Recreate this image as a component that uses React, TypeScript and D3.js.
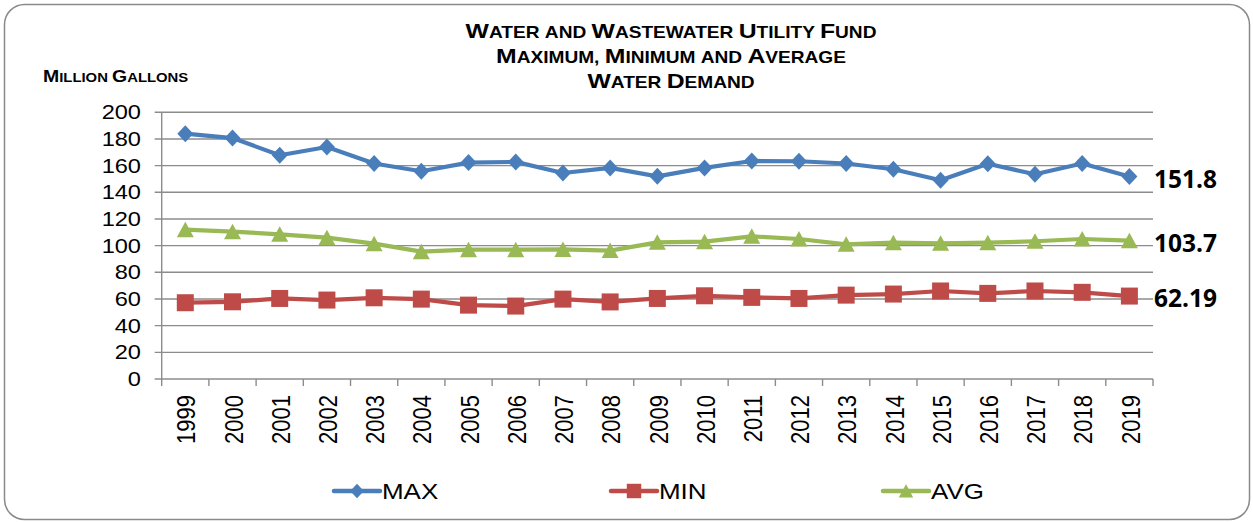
import React from 'react';
import * as d3 from 'd3';

const years = ['1999', '2000', '2001', '2002', '2003', '2004', '2005', '2006', '2007', '2008', '2009', '2010', '2011', '2012', '2013', '2014', '2015', '2016', '2017', '2018', '2019'];
const maxDemand = [184, 180.7, 167.8, 174, 161.6, 155.8, 162.3, 162.8, 154.5, 158.3, 152, 158.3, 163.5, 163.3, 161.6, 157.3, 149, 161.4, 153.5, 161.6, 151.8];
const minDemand = [57.2, 57.9, 60.4, 59.2, 60.9, 59.9, 55.4, 54.7, 59.9, 57.8, 60.4, 62.4, 61.2, 60.4, 62.9, 63.7, 66, 64.2, 66, 65, 62.19];
const avgDemand = [112, 110.5, 108.5, 106, 101.5, 95.5, 97, 97, 97.2, 96.3, 102.5, 103, 107, 105, 101, 102.2, 101.8, 102.2, 103.3, 105, 103.7];
const yTicks = [0, 20, 40, 60, 80, 100, 120, 140, 160, 180, 200];
const endLabels = ['151.8', '62.19', '103.7'];

const W = 1253;
const H = 523;
const left = 161.7;
const right = 1153;
const top = 112.3;
const bottom = 379;
const sx = 1.18; // the original picture is stretched sideways

const series = [
  { name: 'MAX', values: maxDemand, color: '#4a7ebb', marker: 'diamond' },
  { name: 'MIN', values: minDemand, color: '#be4b48', marker: 'square' },
  { name: 'AVG', values: avgDemand, color: '#98b954', marker: 'triangle' },
];

const markerPath = (kind: string, s = 1) => {
  if (kind === 'diamond') return `M0,${-8.5 * s}L${8 * s},0L0,${8.5 * s}L${-8 * s},0Z`;
  if (kind === 'square') return `M${-8.5 * s},${-8.5 * s}h${17 * s}v${17 * s}h${-17 * s}Z`;
  return `M0,${-8 * s}L${8.5 * s},${7.5 * s}L${-8.5 * s},${7.5 * s}Z`;
};

// small caps: first letter of each word big, the rest smaller uppercase
const SmallCaps = ({ text, big, small }: { text: string; big: number; small: number }) => (
  <>
    {text.split(' ').map((w, i, arr) => {
      const lower = w === 'and';
      const head = lower ? '' : w[0];
      const rest = (lower ? w : w.slice(1)).toUpperCase() + (i < arr.length - 1 ? ' ' : '');
      return (
        <React.Fragment key={i}>
          {head && <tspan fontSize={big}>{head}</tspan>}
          <tspan fontSize={small}>{rest}</tspan>
        </React.Fragment>
      );
    })}
  </>
);

export default function App() {
  const x = d3.scaleBand().domain(years).range([left, right]);
  const y = d3.scaleLinear().domain([0, 200]).range([bottom, top]);
  const cx = (d: string) => (x(d) as number) + x.bandwidth() / 2;
  const line = d3
    .line<number>()
    .x((_, i) => cx(years[i]))
    .y((v) => y(v));

  const legendX = [334, 611, 883];
  const font = 'Liberation Sans, Arial, sans-serif';

  return (
    <svg width={W} height={H} style={{ position: 'absolute', left: 0, top: 0, background: '#fff' }} fontFamily={font}>
      <rect x={4.5} y={4.5} width={1245} height={515} rx={20} fill="#fff" stroke="#8a8a8a" strokeWidth={1.5} />

      {/* title */}
      {[
        ['Water and Wastewater Utility Fund', 38.3],
        ['Maximum, Minimum and Average', 62.8],
        ['Water Demand', 87.6],
      ].map(([t, by]) => (
        <text key={t as string} transform={`translate(671,${by}) scale(${sx},1)`} textAnchor="middle" fontWeight="bold">
          <SmallCaps text={t as string} big={21} small={16.2} />
        </text>
      ))}

      <text transform={`translate(43,82.3) scale(${sx},1)`} fontWeight="bold">
        <SmallCaps text="Million Gallons" big={16.5} small={12.6} />
      </text>

      {/* grid and y axis */}
      {yTicks.map((t) => (
        <g key={t}>
          <line x1={left - 7} x2={t === 0 ? right : right} y1={y(t)} y2={y(t)} stroke="#8c8c8c" strokeWidth={1.4} />
          <text transform={`translate(141,${y(t) + 7}) scale(${sx},1)`} textAnchor="end" fontSize={20}>
            {t}
          </text>
        </g>
      ))}
      <line x1={left} x2={left} y1={top} y2={bottom} stroke="#8c8c8c" strokeWidth={1.4} />

      {/* x axis ticks and labels */}
      {years.map((yr) => (
        <line key={'t' + yr} x1={x(yr)} x2={x(yr)} y1={bottom} y2={bottom + 7} stroke="#8c8c8c" strokeWidth={1.4} />
      ))}
      <line x1={right} x2={right} y1={bottom} y2={bottom + 7} stroke="#8c8c8c" strokeWidth={1.4} />
      {years.map((yr) => (
        <text
          key={'l' + yr}
          transform={`translate(${cx(yr) + 1},395) rotate(-90) scale(1,${sx})`}
          textAnchor="end"
          dominantBaseline="central"
          fontSize={22}
        >
          {yr}
        </text>
      ))}

      {/* series */}
      {series.map((s) => (
        <g key={s.name}>
          <path d={line(s.values) as string} fill="none" stroke={s.color} strokeWidth={4.2} strokeLinejoin="round" />
          {s.values.map((v, i) => (
            <path key={i} d={markerPath(s.marker)} transform={`translate(${cx(years[i])},${y(v)})`} fill={s.color} />
          ))}
        </g>
      ))}

      {/* end labels */}
      {series.map((s) => {
        const v = s.values[s.values.length - 1];
        const lbl = endLabels[series.indexOf(s)];
        return (
          <text
            key={'e' + s.name}
            x={right + 1}
            y={y(v) + 1}
            dominantBaseline="central"
            fontFamily="Open Sans, sans-serif"
            fontWeight="bold"
            fontSize={25}
            textLength={63}
            lengthAdjust="spacingAndGlyphs"
          >
            {lbl}
          </text>
        );
      })}

      {/* legend */}
      {series.map((s, i) => (
        <g key={'lg' + s.name} transform={`translate(${legendX[i]},491)`}>
          <line x1={0} x2={46} y1={0} y2={0} stroke={s.color} strokeWidth={4.5} strokeLinecap="round" />
          <path d={markerPath(s.marker, 0.85)} transform="translate(23,0)" fill={s.color} />
          <text transform={`translate(48,8) scale(${sx},1)`} fontSize={22}>
            {s.name}
          </text>
        </g>
      ))}
    </svg>
  );
}
